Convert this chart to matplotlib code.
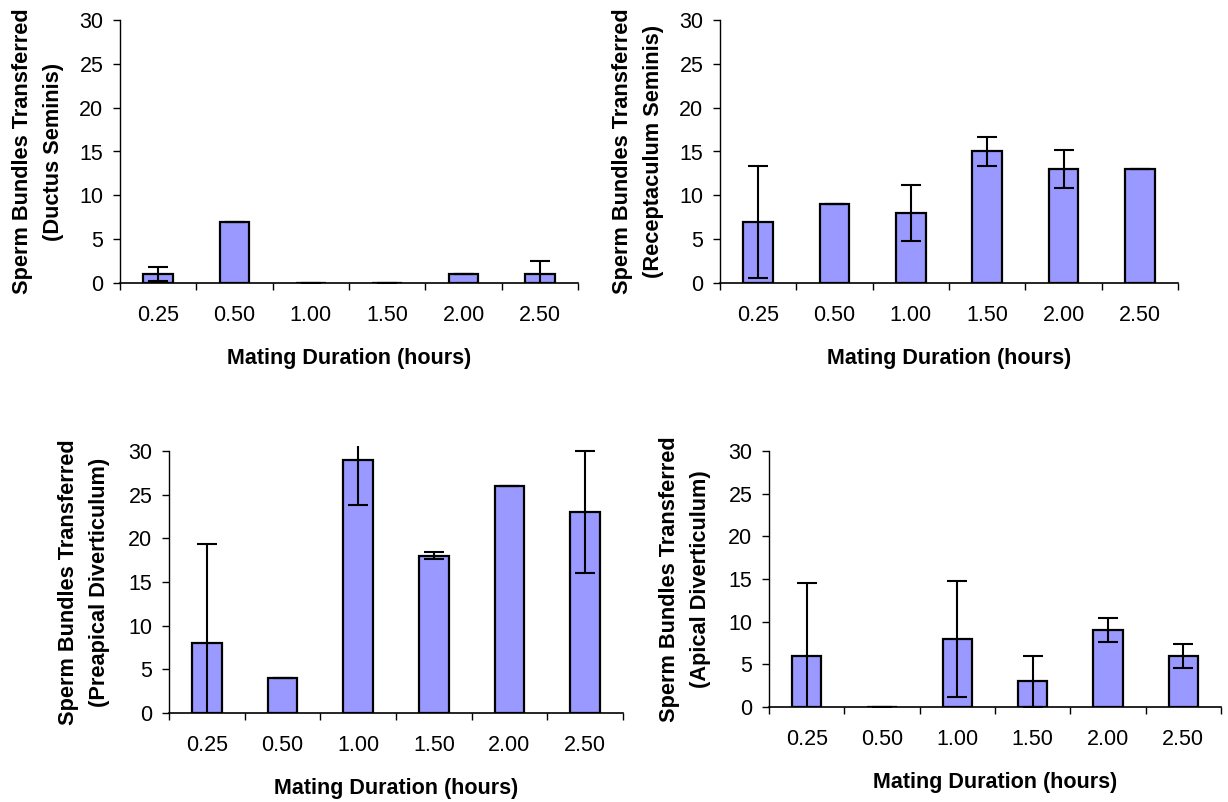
import matplotlib
matplotlib.use("Agg")
import matplotlib.pyplot as plt
import numpy as np

plt.rcParams['font.family'] = ['Liberation Sans', 'DejaVu Sans']

categories = ["0.25", "0.50", "1.00", "1.50", "2.00", "2.50"]

ductus_vals = [1, 7, 0, 0, 1, 1]
ductus_err = [0.8, 0, 0, 0, 0, 1.5]

recept_vals = [7, 9, 8, 15, 13, 13]
recept_err = [6.4, 0, 3.2, 1.6, 2.2, 0]

preapical_vals = [8, 4, 29, 18, 26, 23]
preapical_err = [11.3, 0, 5.2, 0.4, 0, 7.0]

apical_vals = [6, 0, 8, 3, 9, 6]
apical_err = [8.5, 0, 6.8, 3.0, 1.4, 1.4]

ylabels = [
    "Sperm Bundles Transferred\n(Ductus Seminis)",
    "Sperm Bundles Transferred\n(Receptaculum Seminis)",
    "Sperm Bundles Transferred\n(Preapical Diverticulum)",
    "Sperm Bundles Transferred\n(Apical Diverticulum)",
]
xlabel = "Mating Duration (hours)"
yticks = [0, 5, 10, 15, 20, 25, 30]

W, H = 1228, 802
fig = plt.figure(figsize=(W / 100, H / 100), dpi=100)

# pixel layouts: left, right, y of 30, y of 0, ylabel x (center of block)
layouts = [
    (120, 578, 20, 283, 38),
    (720, 1178, 20, 283, 638),
    (169, 623, 451, 713, 84),
    (769, 1221, 451, 707, 685),
]
datasets = [
    (ductus_vals, ductus_err),
    (recept_vals, recept_err),
    (preapical_vals, preapical_err),
    (apical_vals, apical_err),
]

TOP = 30.6
FS = 15.5

for (left, right, y30, y0, ylx), (vals, errs), ylab in zip(layouts, datasets, ylabels):
    ppu = (y0 - y30) / 30.0
    ytop = y30 - (TOP - 30) * ppu
    ax = fig.add_axes([left / W, 1 - y0 / H, (right - left) / W, (y0 - ytop) / H])
    x = np.arange(len(categories)) + 0.5
    ax.bar(x, vals, width=0.39, color="#9999FF", edgecolor="black", linewidth=1.6, zorder=2)
    ax.errorbar(x, vals, yerr=errs, fmt="none", ecolor="black", elinewidth=1.5,
                capsize=7, capthick=1.5, zorder=3)
    ax.set_xlim(0, len(categories))
    ax.set_ylim(0, TOP)
    ax.set_yticks(yticks)
    ax.set_yticklabels([str(t) for t in yticks], fontsize=FS)
    ax.set_xticks(np.arange(len(categories) + 1))
    ax.set_xticklabels([])
    ax.set_xticks(x, minor=True)
    ax.set_xticklabels(categories, minor=True, fontsize=FS)
    ax.tick_params(axis="x", which="major", direction="out", length=5, width=1)
    ax.tick_params(axis="x", which="minor", length=0, pad=16)
    ax.tick_params(axis="y", direction="out", length=5, width=1, pad=7)
    for s in ["top", "right"]:
        ax.spines[s].set_visible(False)
    ax.spines["left"].set_bounds(0, 30)
    ax.spines["left"].set_linewidth(1)
    ax.spines["bottom"].set_linewidth(1.2)
    ax.set_xlabel(xlabel, fontsize=FS, fontweight="bold", labelpad=16)
    fig.text(ylx / W, 1 - ((y30 + y0) / 2) / H, ylab, rotation=90, ha="center", va="center",
             fontsize=15.7, fontweight="bold", multialignment="center", linespacing=1.65)

fig.savefig("out.png", dpi=100)
